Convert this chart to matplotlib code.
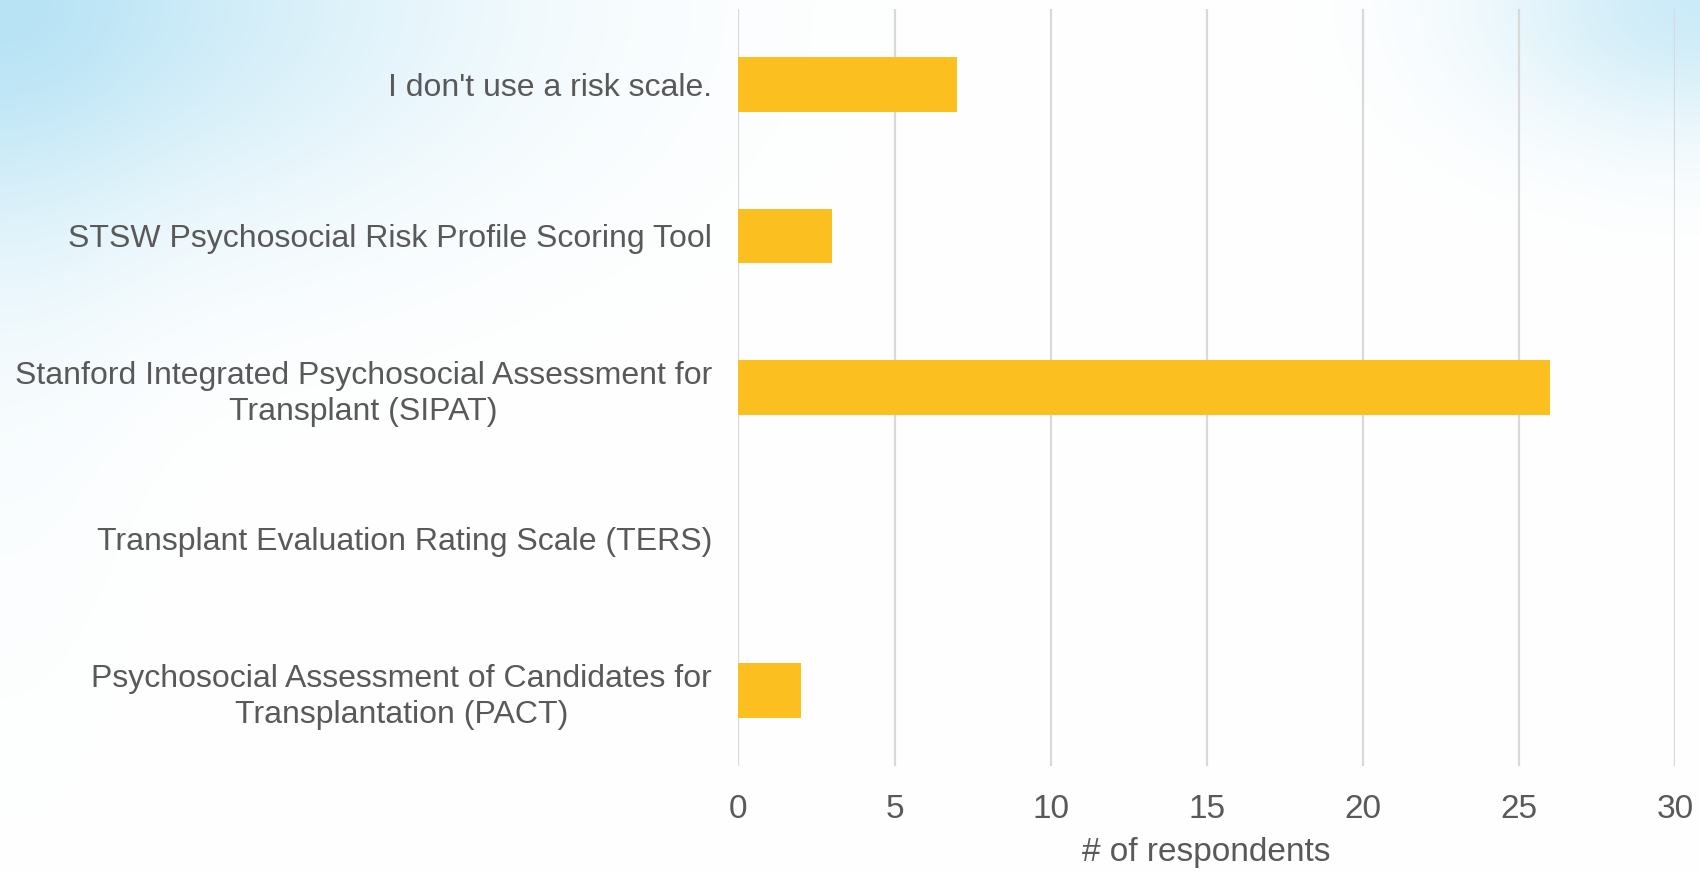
import numpy as np
import matplotlib
matplotlib.use('Agg')
import matplotlib.pyplot as plt

plt.rcParams['font.family'] = ['Liberation Sans', 'DejaVu Sans']

categories = [
    "I don't use a risk scale.",
    "STSW Psychosocial Risk Profile Scoring Tool",
    "Stanford Integrated Psychosocial Assessment for\nTransplant (SIPAT)",
    "Transplant Evaluation Rating Scale (TERS)",
    "Psychosocial Assessment of Candidates for\nTransplantation (PACT)",
]
respondents = [7, 3, 26, 0, 2]
x_ticks = [0, 5, 10, 15, 20, 25, 30]

TEXT = '#595959'
GRID = '#d9d9d9'
BAR = '#fbc020'

fig = plt.figure(figsize=(17, 8.73), dpi=100)

# soft sky-blue wash in the top corners
bg = fig.add_axes([0, 0, 1, 1], zorder=-10)
h, w = 220, 430
yy, xx = np.mgrid[0:h, 0:w]
xn, yn = xx / (w - 1), yy / (h - 1)
blue = np.array([0.64, 0.86, 0.95])
left = np.exp(-((xn / 0.26) ** 2 + (yn / 0.26) ** 2)) * 0.65
left += np.exp(-((xn / 0.08) ** 2 + (yn / 0.6) ** 2)) * 0.13
right = np.exp(-(((1 - xn) / 0.12) ** 2 + (yn / 0.15) ** 2)) * 0.55
a = np.clip(left + right, 0, 1)[..., None]
img = (1 - a) * np.ones(3) + a * blue
bg.imshow(img, aspect='auto', extent=[0, 1, 0, 1], origin='upper', interpolation='bicubic')
bg.axis('off')

ax = fig.add_axes([0.4344, 0.1226, 0.5509, 0.8675])
ax.patch.set_alpha(0)

ypos = np.arange(len(categories))
ax.barh(ypos, respondents, height=0.36, color=BAR, zorder=3)

ax.set_ylim(len(categories) - 0.5, -0.5)
ax.set_xlim(0, 30)
ax.set_xticks(x_ticks)
ax.set_yticks(ypos)
ax.set_yticklabels(categories, fontsize=23, color=TEXT, linespacing=1.27)
for lbl in ax.get_yticklabels():
    lbl.set_multialignment('center')
ax.set_xticklabels([str(t) for t in x_ticks], fontsize=24, color=TEXT)
ax.tick_params(axis='y', length=0, pad=19)
ax.tick_params(axis='x', length=0, pad=20)

ax.grid(axis='x', color=GRID, linewidth=1.6, zorder=0)
ax.set_axisbelow(True)
for s in ax.spines.values():
    s.set_visible(False)

ax.set_xlabel('# of respondents', fontsize=24, color=TEXT, labelpad=9)

fig.savefig('out.png', dpi=100)
